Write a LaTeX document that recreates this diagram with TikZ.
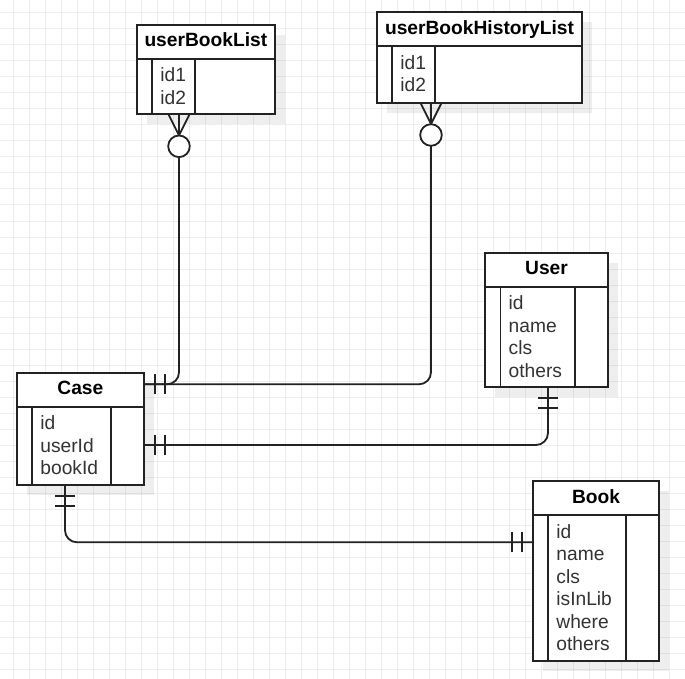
\documentclass[tikz,border=0pt]{standalone}
\usepackage{fontspec}
\setmainfont{Liberation Sans}
\usetikzlibrary{calc}

\definecolor{gridc}{HTML}{EDEDED}
\definecolor{inkc}{HTML}{222222}
\definecolor{textc}{HTML}{333333}

\tikzset{
  gridl/.style={draw=gridc, line width=1pt},
  tbl/.style={draw=inkc, fill=white, line width=1.8pt, inner sep=0pt, outer sep=0pt, rectangle},
  rule/.style={draw=inkc, line width=1.8pt},
  shade/.style={fill=black, opacity=0.065},
  hdr/.style={font=\fontsize{19.2}{23}\selectfont\bfseries, text=black, inner sep=0pt},
  fld/.style={font=\fontsize{19.2}{23}\selectfont, text=textc, inner sep=0pt},
  conn/.style={draw=inkc, line width=1.8pt},
  mandone/.pic={\draw[conn] (11,-10) -- (11,10) (21,-10) -- (21,10);},
  zeromany/.pic={
    \draw[conn] (0,-10.5) -- (21,0) -- (0,10.5);
    \draw[conn, fill=white] (32,0) circle[radius=10.8];
  },
}

% #1 name, #2 left, #3 top, #4 width, #5 height, #6 offset of right column line, #7 title, #8 fields
\newcommand\ERtable[8]{%
  \fill[shade] (#2+10,#3+10) rectangle ++(#4,#5);
  \node[tbl, anchor=north west, minimum width=#4, minimum height=#5] (#1) at (#2,#3) {};
  \draw[rule] ($(#1.north west)+(0,34)$) -- ($(#1.north east)+(0,34)$);
  \draw[rule] ($(#1.north west)+(15.5,34)$) -- ($(#1.south west)+(15.5,0)$);
  \draw[rule] ($(#1.north west)+(#6,34)$) -- ($(#1.south west)+(#6,0)$);
  \node[hdr, anchor=base] (#1-t) at ($(#1.north)+(0,22)$) {#7};
  \foreach \f [count=\i] in {#8}
    \node[fld, anchor=base west] (#1-f\i) at ($(#1.north west)+(23.5,57+22.5*\i-22.5)$) {\f};
}

\begin{document}
\begin{tikzpicture}[x=1pt, y=-1pt]
  \useasboundingbox (0,0) rectangle (685,679);
  \fill[white] (0,0) rectangle (685,679);

  % background grid
  \foreach \gx in {13,29,...,685} \draw[gridl] (\gx,0) -- (\gx,679);
  \foreach \gy in {13,29,...,669} \draw[gridl] (0,\gy) -- (685,\gy);

  % entities
  \ERtable{ubl}{136.7}{25}{138.3}{89.3}{58.6}{userBookList}{id1,id2}
  \ERtable{ubh}{376.7}{12.3}{205.6}{90.7}{58.3}{userBookHistoryList}{id1,id2}
  \ERtable{case}{16.7}{372.7}{127.3}{112.6}{94}{Case}{id,userId,bookId}
  \ERtable{user}{485}{252.7}{123}{134.6}{89.7}{User}{id,name,cls,others}
  \ERtable{book}{532.7}{481}{126.6}{179.7}{93}{Book}{id,name,cls,isInLib,where,others}

  % connector end points on the entity borders
  \coordinate (ublEnd) at ($(ubl.south west)+(42.3,0)$);
  \coordinate (ubhEnd) at ($(ubh.south west)+(54.3,0)$);
  \coordinate (caseTop) at ($(case.north east)+(0,11.6)$);
  \coordinate (caseMid) at ($(case.north east)+(0,72.3)$);
  \coordinate (caseBot) at ($(case.south west)+(48.3,0)$);
  \coordinate (userBot) at ($(user.south west)+(63,0)$);
  \coordinate (bookIn) at ($(book.north west)+(0,61.3)$);

  % relationships
  \draw[conn, rounded corners=12] (ublEnd) |- (caseTop);
  \draw[conn, rounded corners=12] (ubhEnd) |- (caseTop);
  \draw[conn, rounded corners=12] (caseMid) -| (userBot);
  \draw[conn, rounded corners=12] (caseBot) |- (bookIn);

  % cardinality markers
  \pic[rotate=-90] at (ublEnd) {zeromany};
  \pic[rotate=-90] at (ubhEnd) {zeromany};
  \pic at (caseTop) {mandone};
  \pic at (caseMid) {mandone};
  \pic[rotate=-90] at (userBot) {mandone};
  \pic[rotate=-90] at (caseBot) {mandone};
  \pic[rotate=180] at (bookIn) {mandone};
\end{tikzpicture}
\end{document}
